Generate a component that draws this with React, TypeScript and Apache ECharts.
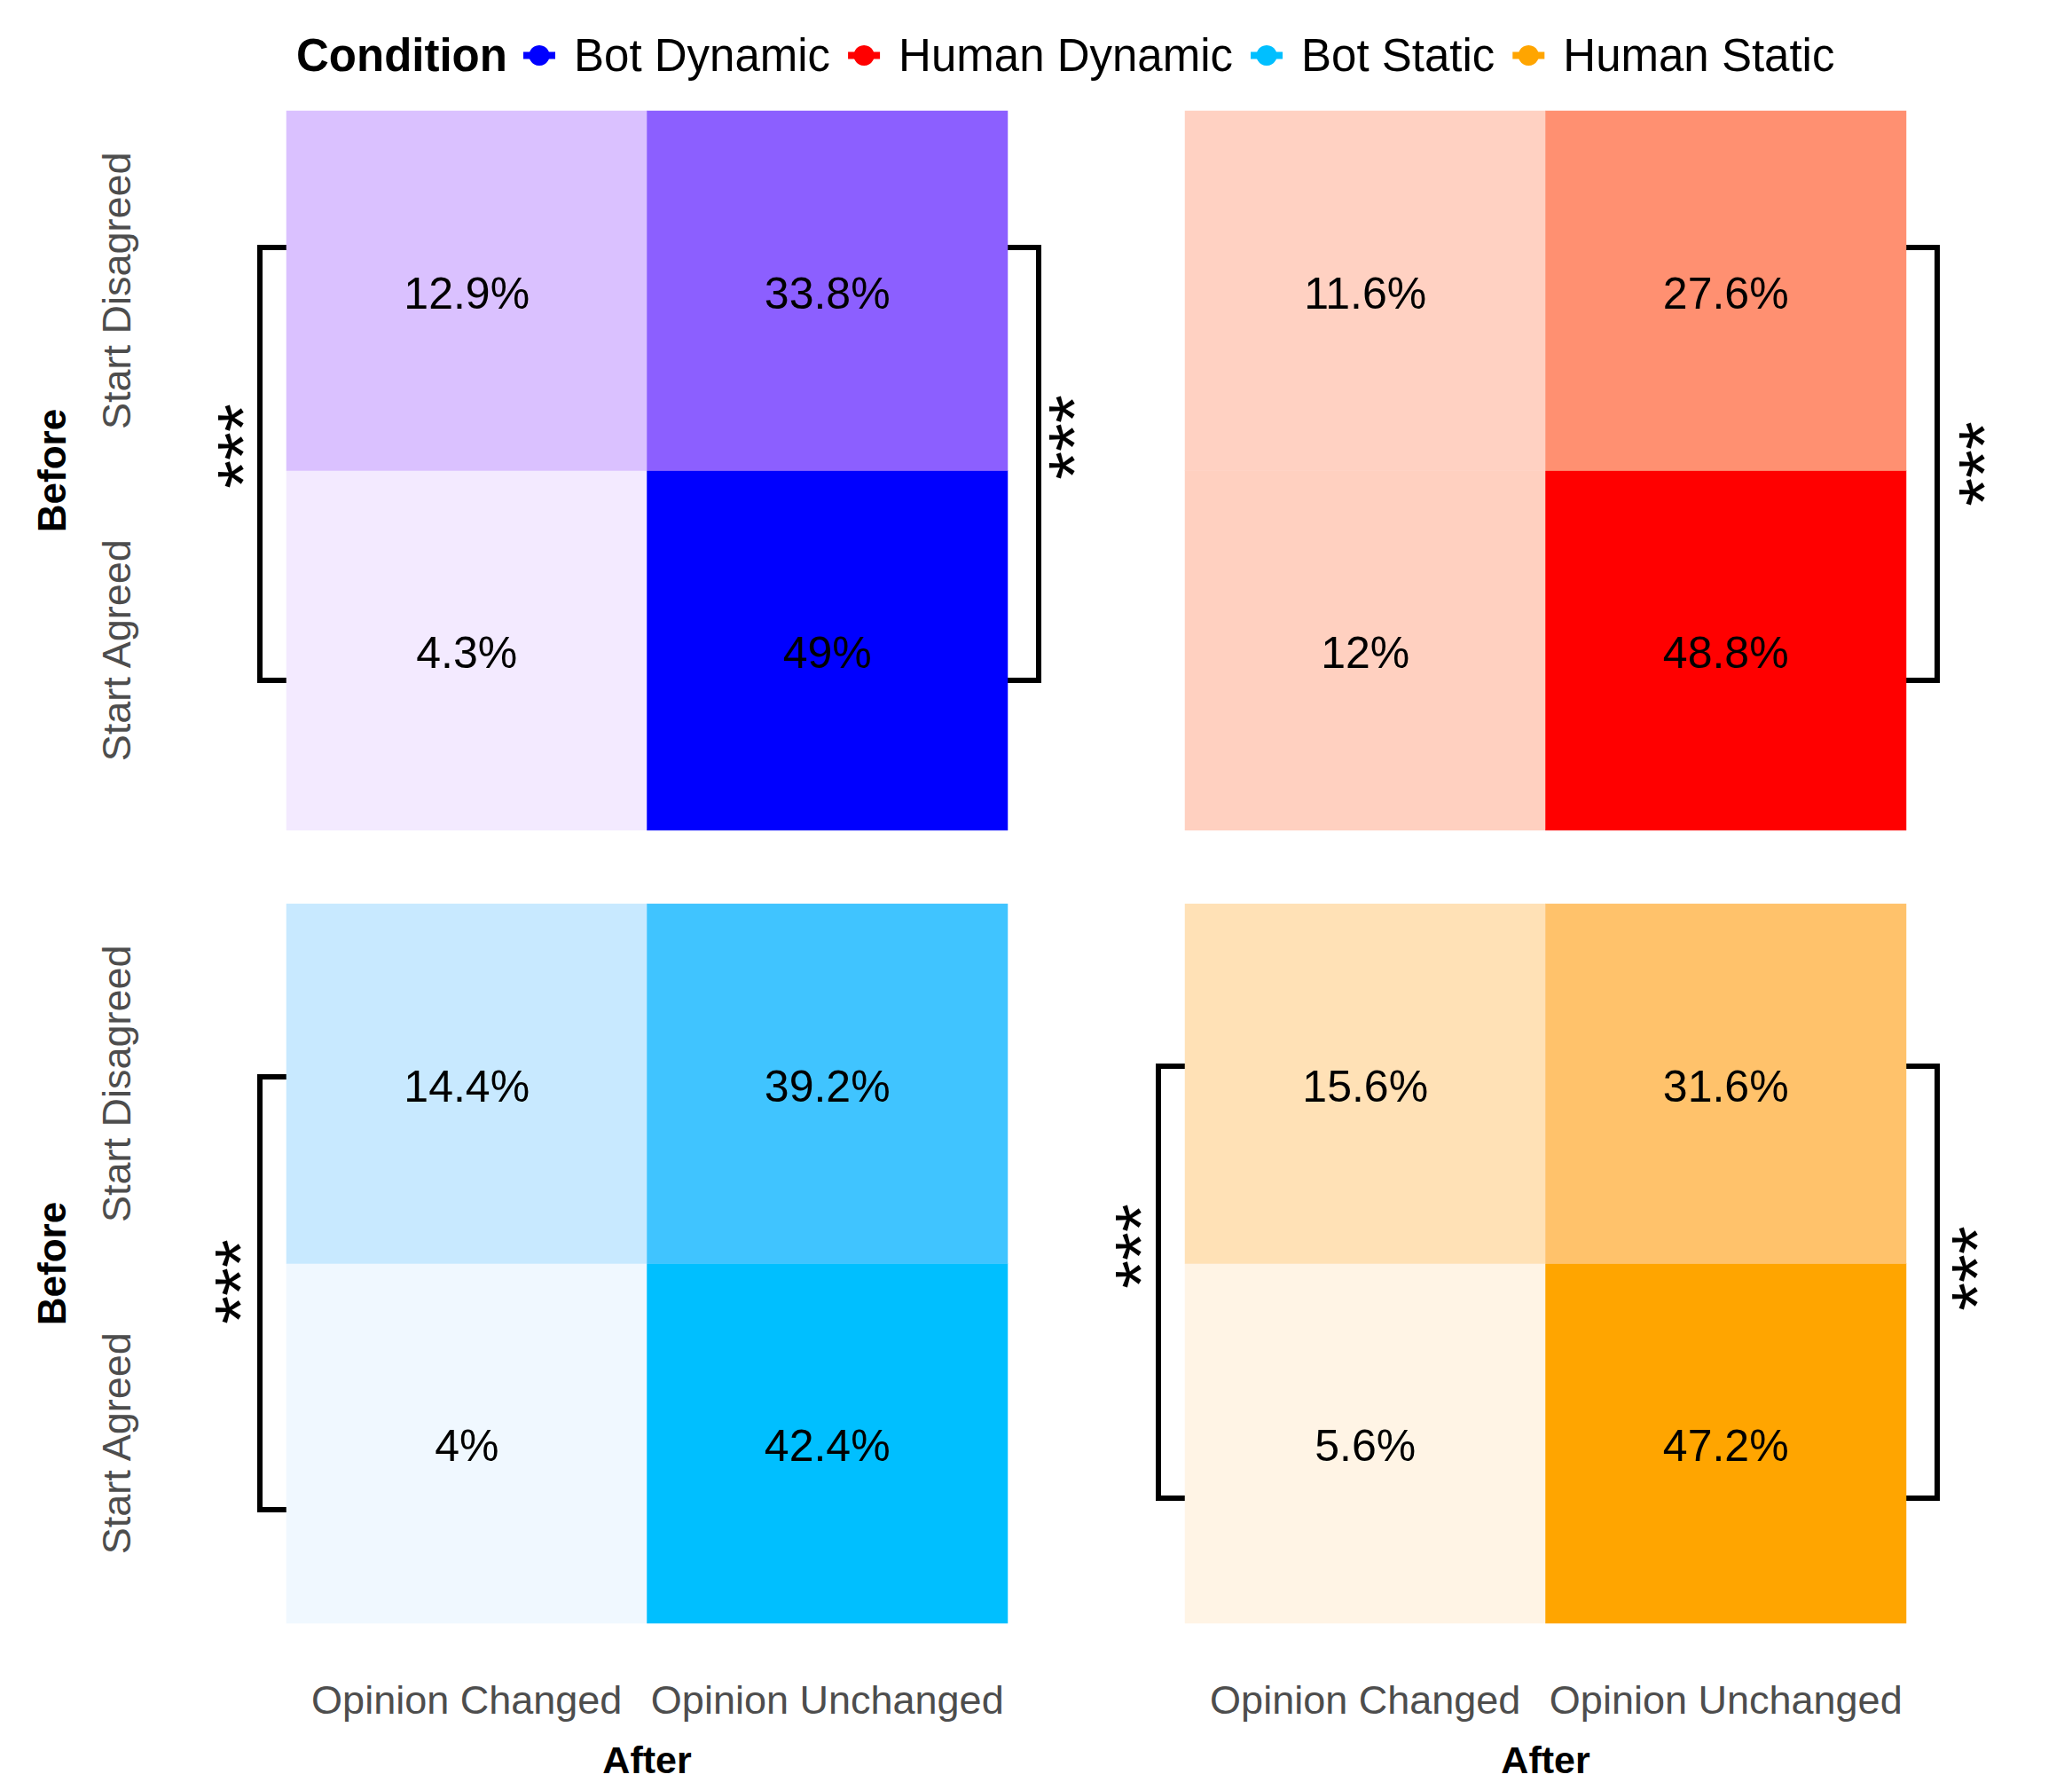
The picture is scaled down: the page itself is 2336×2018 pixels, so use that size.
import React, { useEffect, useRef } from "react";
import * as echarts from "echarts";

// ---------------- data ----------------
const conditions = ["Bot Dynamic", "Human Dynamic", "Bot Static", "Human Static"];
const conditionColors = ["#0000FF", "#FF0000", "#00BFFF", "#FFA500"];
const afterLabels = ["Opinion Changed", "Opinion Unchanged"];
const beforeLabels = ["Start Agreed", "Start Disagreed"];

// [after index, before index, percent]
const botDynamic = [[0, 0, 4.3], [1, 0, 49], [0, 1, 12.9], [1, 1, 33.8]];
const humanDynamic = [[0, 0, 12], [1, 0, 48.8], [0, 1, 11.6], [1, 1, 27.6]];
const botStatic = [[0, 0, 4], [1, 0, 42.4], [0, 1, 14.4], [1, 1, 39.2]];
const humanStatic = [[0, 0, 5.6], [1, 0, 47.2], [0, 1, 15.6], [1, 1, 31.6]];
const panelData = [botDynamic, humanDynamic, botStatic, humanStatic];

const sigLabel = "***";

// ---------------- colour helpers (Lab ramp white -> colour) ----------------
function hexToRgb(h: string) {
  const n = parseInt(h.slice(1), 16);
  return [(n >> 16) & 255, (n >> 8) & 255, n & 255];
}
function toLin(c: number) {
  c /= 255;
  return c <= 0.04045 ? c / 12.92 : Math.pow((c + 0.055) / 1.055, 2.4);
}
function fromLin(c: number) {
  const v = c <= 0.0031308 ? 12.92 * c : 1.055 * Math.pow(c, 1 / 2.4) - 0.055;
  return Math.round(Math.max(0, Math.min(1, v)) * 255);
}
function rgbToLab(rgb: number[]) {
  const R = toLin(rgb[0]), G = toLin(rgb[1]), B = toLin(rgb[2]);
  const X = (0.4124 * R + 0.3576 * G + 0.1805 * B) / 0.95047;
  const Y = 0.2126 * R + 0.7152 * G + 0.0722 * B;
  const Z = (0.0193 * R + 0.1192 * G + 0.9505 * B) / 1.08883;
  const f = (t: number) => (t > 0.008856 ? Math.cbrt(t) : 7.787 * t + 16 / 116);
  const fx = f(X), fy = f(Y), fz = f(Z);
  return [116 * fy - 16, 500 * (fx - fy), 200 * (fy - fz)];
}
function labToRgb(lab: number[]) {
  const fy = (lab[0] + 16) / 116;
  const fx = fy + lab[1] / 500;
  const fz = fy - lab[2] / 200;
  const inv = (t: number) => (t * t * t > 0.008856 ? t * t * t : (t - 16 / 116) / 7.787);
  const X = inv(fx) * 0.95047, Y = inv(fy), Z = inv(fz) * 1.08883;
  const R = 3.2406 * X - 1.5372 * Y - 0.4986 * Z;
  const G = -0.9689 * X + 1.8758 * Y + 0.0415 * Z;
  const B = 0.0557 * X - 0.204 * Y + 1.057 * Z;
  return `rgb(${fromLin(R)},${fromLin(G)},${fromLin(B)})`;
}
function ramp(high: string, t: number) {
  const a = rgbToLab([255, 255, 255]);
  const b = rgbToLab(hexToRgb(high));
  return labToRgb([0, 1, 2].map((i) => a[i] + (b[i] - a[i]) * t));
}

// ---------------- layout ----------------
const FONT = "'Liberation Sans', Arial, Helvetica, sans-serif";
const panelLefts = [323, 1336, 323, 1336];
const panelTops = [125, 125, 1019, 1019];
const panelW = 813;
const panelH = 811;

// brackets: [panel, side, yTop, yBottom, starX, starY]
const brackets: [number, string, number, number, number, number][] = [
  [0, "left", 279, 767, 259, 503],
  [0, "right", 279, 767, 1196, 493],
  [1, "right", 279, 767, 2222, 523],
  [2, "left", 1214, 1702, 256, 1445],
  [3, "left", 1202, 1689, 1271, 1405],
  [3, "right", 1202, 1689, 2214, 1430],
];

export default function App() {
  const ref = useRef<HTMLDivElement>(null);
  useEffect(() => {
    document.body.style.margin = "0";
    const chart = echarts.init(ref.current!, undefined, { renderer: "svg" });

    const grids = panelLefts.map((l, i) => ({
      left: l,
      top: panelTops[i],
      width: panelW,
      height: panelH,
    }));
    const xAxes = panelLefts.map((_, i) => ({
      type: "category",
      gridIndex: i,
      data: afterLabels,
      axisLine: { show: false },
      axisTick: { show: false },
      splitLine: { show: false },
      axisLabel: {
        show: i >= 2,
        interval: 0,
        hideOverlap: false,
        margin: 64,
        fontSize: 45,
        color: "#4D4D4D",
        fontFamily: FONT,
      },
      name: i >= 2 ? "After" : "",
      nameLocation: "middle",
      nameGap: 132,
      nameTextStyle: { fontSize: 43, fontWeight: "bold", color: "#000", fontFamily: FONT },
    }));
    const yAxes = panelLefts.map((_, i) => ({
      type: "category",
      gridIndex: i,
      data: beforeLabels,
      axisLine: { show: false },
      axisTick: { show: false },
      splitLine: { show: false },
      axisLabel: {
        show: i % 2 === 0,
        interval: 0,
        hideOverlap: false,
        rotate: 90,
        margin: 169,
        fontSize: 45,
        color: "#4D4D4D",
        fontFamily: FONT,
      },
      name: i % 2 === 0 ? "Before" : "",
      nameLocation: "middle",
      nameGap: 243,
      nameTextStyle: { fontSize: 44, fontWeight: "bold", color: "#000", fontFamily: FONT },
    }));

    const maxVals = panelData.map((d) => Math.max(...d.map((r) => r[2])));
    const visualMaps = panelData.map((_, i) => ({
      type: "continuous",
      show: false,
      seriesIndex: i,
      dimension: 2,
      min: 0,
      max: maxVals[i],
      inRange: {
        color: Array.from({ length: 41 }, (_, k) => ramp(conditionColors[i], k / 40)),
      },
    }));

    const heatSeries = panelData.map((d, i) => ({
      type: "heatmap",
      xAxisIndex: i,
      yAxisIndex: i,
      data: d,
      label: {
        show: true,
        formatter: (p: any) => `${p.value[2]}%`,
        fontSize: 50,
        offset: [0, 3],
        color: "#000",
        fontFamily: FONT,
      },
      emphasis: { disabled: true },
    }));

    const legendSeries = conditions.map((c, i) => ({
      type: "line",
      name: c,
      data: [],
      symbol: "circle",
      itemStyle: { color: conditionColors[i] },
      lineStyle: { color: conditionColors[i], width: 8 },
    }));

    const graphics: any[] = [];
    brackets.forEach(([p, side, y0, y1, sx, sy]) => {
      const left = panelLefts[p];
      const right = left + panelW;
      let pts: number[][];
      if (side === "left") {
        const vx = left - 30;
        const ax = left + 43;
        pts = [[ax, y0], [vx, y0], [vx, y1], [ax, y1]];
      } else {
        const vx = right + 35;
        const ax = right - 37;
        pts = [[ax, y0], [vx, y0], [vx, y1], [ax, y1]];
      }
      graphics.push({
        type: "polyline",
        shape: { points: pts },
        style: { stroke: "#000", lineWidth: 6, fill: null, lineJoin: "miter", lineCap: "butt" },
        silent: true,
      });
      graphics.push({
        type: "text",
        x: sx + 14,
        y: sy,
        rotation: Math.PI / 2,
        style: {
          text: sigLabel,
          fontSize: 82,
          fontFamily: FONT,
          fill: "#000",
          align: "center",
          verticalAlign: "middle",
          textAlign: "center",
          textVerticalAlign: "middle",
        },
        silent: true,
      });
    });

    chart.setOption({
      animation: false,
      backgroundColor: "#fff",
      title: {
        text: "Condition",
        left: 334,
        top: 37,
        padding: 0,
        textStyle: { fontSize: 51, fontWeight: "bold", color: "#000", fontFamily: FONT },
      },
      legend: {
        data: conditions,
        left: 586,
        top: 37,
        padding: 0,
        itemWidth: 36,
        itemHeight: 29,
        itemGap: 16,
        lineStyle: { width: 8 },
        textStyle: { fontSize: 51, color: "#000", fontFamily: FONT, padding: [0, 0, 0, 16] },
        selectedMode: false,
      },
      visualMap: visualMaps,
      grid: grids,
      xAxis: xAxes,
      yAxis: yAxes,
      series: [...heatSeries, ...legendSeries],
      graphic: graphics,
    });
    return () => chart.dispose();
  }, []);
  return <div ref={ref} style={{ width: 2336, height: 2018 }} />;
}
